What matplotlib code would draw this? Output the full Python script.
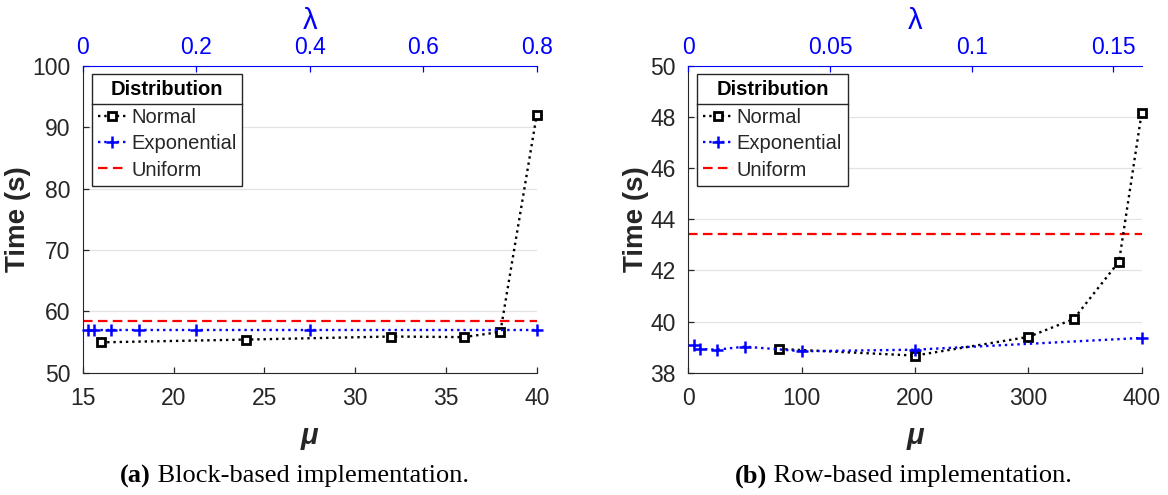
import matplotlib
matplotlib.use("Agg")
import matplotlib.pyplot as plt
from matplotlib.lines import Line2D

# (a) block-based
mu_a = [16, 24, 32, 36, 38, 40]
normal_a = [54.95, 55.4, 55.9, 55.8, 56.65, 92.0]
lam_a = [0.01, 0.02, 0.05, 0.1, 0.2, 0.4, 0.8]
expo_a = [57.0, 57.0, 57.0, 57.0, 57.0, 57.0, 57.0]
uniform_a = 58.5

# (b) row-based
mu_b = [80, 200, 300, 340, 380, 400]
normal_b = [38.93, 38.67, 39.4, 40.1, 42.35, 48.18]
lam_b = [0.002, 0.004, 0.01, 0.02, 0.04, 0.08, 0.16]
expo_b = [39.1, 38.93, 38.9, 39.02, 38.84, 38.9, 39.36]
uniform_b = 43.43

captions = [("(a)", " Block-based implementation."),
            ("(b)", " Row-based implementation.")]

plt.rcParams['font.family'] = ['Liberation Sans', 'DejaVu Sans']
TXT = '#262626'

fig = plt.figure(figsize=(11.68, 4.95), dpi=100)
W, H = 1168, 495


def panel(rect, mu, normal, lam, expo, uni, xlim, xticks, ylim, yticks,
          lticks, llabels):
    ax = fig.add_axes(rect)
    ax2 = ax.twiny()
    ax.set_xlim(*xlim)
    ax.set_ylim(*ylim)
    ax.set_xticks(xticks)
    ax.set_yticks(yticks)
    ax2.set_xlim(0, lam[-1])
    ax2.set_xticks(lticks)
    ax2.set_xticklabels(llabels)

    ax.grid(axis='y', color='#e3e3e3', lw=0.9)
    ax.set_axisbelow(True)
    for s in ['top', 'right']:
        ax.spines[s].set_visible(False)
    for s in ['left', 'bottom', 'right']:
        ax2.spines[s].set_visible(False)
    ax2.spines['top'].set_color('blue')
    ax.spines['left'].set_color(TXT)
    ax.spines['bottom'].set_color(TXT)
    ax.tick_params(direction='in', length=4, width=0.9, colors=TXT,
                   labelsize=16.5)
    ax.tick_params(axis='x', pad=10)
    ax.tick_params(axis='y', pad=9)
    ax2.tick_params(direction='in', length=4, width=0.9, colors='blue',
                    labelsize=16.5, pad=5)

    hu = ax.axhline(uni, color='red', lw=1.6, dashes=(4.3, 2.4), label='Uniform')
    hn, = ax.plot(mu, normal, ls=':', color='black', lw=1.7, marker='s', ms=6,
                  mfc='white', mec='black', mew=2.0, clip_on=False, zorder=4,
                  label='Normal')
    he, = ax2.plot(lam, expo, ls=':', color='blue', lw=1.7, marker='+', ms=8,
                   mew=1.8, clip_on=False, zorder=3, label='Exponential')

    ax.set_xlabel('μ', fontsize=21, fontweight='bold', fontstyle='italic',
                  color=TXT, labelpad=9)
    ax.set_ylabel('Time (s)', fontsize=20, fontweight='bold', color=TXT,
                  labelpad=1)
    ax2.set_xlabel('λ', fontsize=21, color='blue', labelpad=5)

    leg = ax2.legend([hn, he, hu], ['Normal', 'Exponential', 'Uniform'],
                     loc='upper left', bbox_to_anchor=(0.02, 0.975),
                     title='Distribution', fontsize=14.5,
                     title_fontproperties={'weight': 'bold', 'size': 14.5},
                     fancybox=False, framealpha=1, edgecolor=TXT,
                     handlelength=1.45, handletextpad=0.2, borderpad=0.3,
                     labelspacing=0.35, borderaxespad=0, numpoints=1)
    leg.get_frame().set_linewidth(1.0)
    leg._legend_box.sep = 7
    for t in leg.get_texts():
        t.set_color(TXT)
    return ax, ax2, leg


rects = [[82.7 / W, 1 - 372.7 / H, 454 / W, 306.7 / H],
         [688.3 / W, 1 - 372.7 / H, 453.4 / W, 306.7 / H]]

pa = panel(rects[0], mu_a, normal_a, lam_a, expo_a, uniform_a,
           (15, 40), [15, 20, 25, 30, 35, 40], (50, 100),
           [50, 60, 70, 80, 90, 100], [0, 0.2, 0.4, 0.6, 0.8],
           ['0', '0.2', '0.4', '0.6', '0.8'])
pb = panel(rects[1], mu_b, normal_b, lam_b, expo_b, uniform_b,
           (0, 400), [0, 100, 200, 300, 400], (38, 50),
           [38, 40, 42, 44, 46, 48, 50], [0, 0.05, 0.1, 0.15],
           ['0', '0.05', '0.1', '0.15'])

# captions: bold tag followed by plain text
cap_x = [120 / W, 735 / W]
for (bold, rest), x in zip(captions, cap_x):
    t = fig.text(x, 1 - 476 / H, bold, fontsize=19, fontweight='bold',
                 family='Liberation Serif', va='center', ha='left')
    plt.annotate(rest, xy=(1, 0.5), xycoords=t, va='center', ha='left',
                 fontsize=19, family='Liberation Serif')

# MATLAB-style line under the legend title
fig.canvas.draw()
for _, _, leg in [pa, pb]:
    fb = leg.get_frame().get_window_extent()
    tb = leg.get_title().get_window_extent()
    eb = leg.get_texts()[0].get_window_extent()
    y = (tb.y0 + eb.y1) / 2
    fig.add_artist(Line2D([fb.x0 / W, fb.x1 / W], [y / H, y / H],
                          color=TXT, lw=1.0, zorder=10))

fig.savefig('out.png', dpi=100)
